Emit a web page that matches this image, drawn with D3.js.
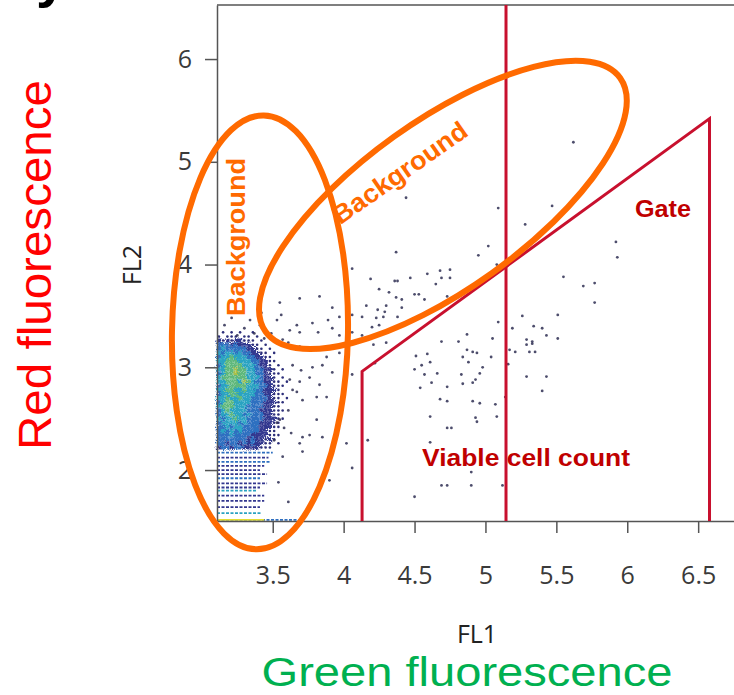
<!DOCTYPE html>
<html lang="en">
<head>
  <meta charset="UTF-8" />
  <title>Viable cell gate (FL1 vs FL2)</title>
  <script src="https://d3js.org/d3.v7.min.js"></script>
  <style>
    body {
      margin: 0;
      background: #fff;
    }

    svg {
      display: block;
    }

    .axis path,
    .axis line {
      stroke: #555;
      stroke-width: 1.5px;
    }

    .axis text {
      font-family: 'Open Sans', sans-serif;
      font-size: 25px;
      fill: #3a3a3a;
    }

    .axis-title {
      font-family: 'Open Sans', sans-serif;
      font-size: 25px;
      fill: #222;
    }

    .big-title {
      font-family: 'Liberation Sans', Arial, sans-serif;
    }

    .note {
      font-family: 'Liberation Sans', Arial, sans-serif;
      font-weight: bold;
    }
  </style>
</head>
<body>

  <div id="chart"></div>

  <script>
    // axis ticks
    const xTicks = [3.5, 4, 4.5, 5, 5.5, 6, 6.5];
    const yTicks = [2, 3, 4, 5, 6];

    // sparse events, FL1 / FL2 pairs
    const eventX = [
      4.44, 5.09, 5.47, 5.28, 5.92, 5.93, 4.37, 5.02, 4.95, 5.08, 4.06, 4.19, 4.36, 4.38, 4.47,
      4.59, 4.68, 4.75, 4.69, 4.75, 4.65, 5.55, 5.69, 5.77, 5.77, 4.25, 4.32, 4.50, 4.53, 4.73,
      4.57, 4.37, 4.41, 4.16, 4.30, 4.24, 4.29, 4.41, 4.06, 4.13, 4.23, 4.28, 4.38, 4.20, 4.25,
      4.13, 4.06, 3.97, 4.02, 4.30, 4.21, 5.26, 5.51, 5.09, 5.19, 5.34, 5.40, 5.43, 5.51, 5.29,
      5.33, 5.29, 5.33, 5.31, 5.35, 5.17, 5.21, 5.05, 4.87, 4.81, 4.69, 4.87, 4.91, 4.94, 4.84,
      4.88, 5.04, 4.51, 4.59, 4.61, 4.55, 4.66, 4.57, 4.50, 4.98, 4.96, 5.16, 5.29, 5.43, 5.40,
      4.83, 4.93, 4.91, 4.84, 4.73, 4.54, 4.62, 4.68, 4.73, 4.91, 4.96, 5.07, 5.14, 4.61, 4.93,
      5.08, 4.06, 4.22, 4.73, 4.76, 4.61, 4.90, 4.69, 4.73, 4.90, 5.12, 4.50, 4.94, 5.62, 4.17,
      3.53, 3.67, 3.69, 3.78, 3.82, 3.89, 3.92, 3.97, 4.02, 3.57, 3.61, 3.69, 3.81, 3.88, 3.97,
      3.64, 3.70, 3.78, 3.85, 3.92, 3.62, 3.69, 3.76, 3.64, 3.67, 3.83, 3.71, 3.81, 3.88, 3.61,
      3.81, 3.63, 3.71, 3.76, 3.85, 3.69, 4.02, 3.71, 4.06, 3.90, 3.61, 3.57, 3.54, 3.62, 3.49,
      3.56, 3.53, 3.55, 3.69, 3.42, 3.83, 3.92, 3.41, 3.34, 3.16, 3.21, 3.30, 3.37, 3.44, 3.25,
      3.55, 3.58, 3.51
    ];
    const eventY = [
      4.65, 4.55, 4.57, 4.39, 4.22, 4.07, 4.12, 4.18, 4.09, 4.00, 3.96, 3.86, 3.84, 3.84, 3.87,
      3.91, 3.94, 3.95, 3.87, 3.87, 3.81, 3.88, 3.79, 3.82, 3.63, 3.76, 3.73, 3.71, 3.71, 3.69,
      3.66, 3.68, 3.66, 3.60, 3.60, 3.56, 3.54, 3.58, 3.51, 3.49, 3.48, 3.49, 3.49, 3.39, 3.41,
      3.31, 3.34, 3.31, 3.29, 3.24, 3.22, 3.50, 3.51, 3.44, 3.38, 3.40, 3.38, 3.31, 3.28, 3.27,
      3.25, 3.22, 3.23, 3.15, 3.15, 3.17, 3.15, 3.28, 3.32, 3.25, 3.25, 3.17, 3.15, 3.14, 3.10,
      3.05, 3.10, 3.11, 3.13, 3.05, 3.02, 2.94, 2.93, 2.98, 3.00, 2.94, 3.03, 2.91, 2.91, 2.77,
      2.93, 2.88, 2.85, 2.84, 2.81, 2.80, 2.85, 2.69, 2.67, 2.67, 2.65, 2.64, 2.71, 2.52, 2.51,
      2.52, 2.93, 3.04, 2.41, 2.41, 2.27, 1.98, 1.85, 1.85, 1.85, 1.85, 1.74, 2.47, 5.19, 2.29,
      3.46, 3.41, 3.34, 3.43, 3.34, 3.46, 3.38, 3.49, 3.46, 3.27, 3.24, 3.20, 3.17, 3.10, 3.14,
      3.02, 2.97, 3.00, 3.02, 2.95, 2.88, 2.86, 2.90, 2.78, 2.76, 2.83, 2.68, 2.71, 2.71, 2.58,
      2.49, 2.36, 2.32, 2.34, 2.32, 2.26, 2.26, 2.18, 2.02, 1.90, 1.69, 2.13, 1.88, 3.36, 3.33,
      3.51, 2.46, 3.63, 3.67, 3.53, 3.69, 3.58, 3.41, 3.46, 3.41, 3.48, 3.38, 3.33, 3.28, 3.31,
      2.49, 2.41, 2.29
    ];

    // dense background cloud, density level per cell (0 empty, 1 sparse .. 6 highest)
    const cloudCols = [3.12, 3.15, 3.18, 3.21, 3.24, 3.27, 3.30, 3.33, 3.36, 3.39, 3.42, 3.45, 3.48, 3.51, 3.54, 3.57, 3.60];
    const cloudRows = [3.34, 3.30, 3.26, 3.22, 3.18, 3.14, 3.10, 3.06, 3.02, 2.98, 2.94, 2.90, 2.86, 2.82, 2.78,
                       2.74, 2.70, 2.66, 2.62, 2.58, 2.54, 2.50, 2.46, 2.42, 2.38, 2.34, 2.30, 2.26, 2.22];
    const cloudLevels = [
      [0, 1, 0, 1, 0, 1, 0, 0, 1, 0, 0, 0, 0, 0, 0, 0, 0],
      [1, 0, 1, 1, 1, 0, 1, 1, 0, 1, 0, 0, 0, 0, 0, 0, 0],
      [2, 1, 2, 1, 2, 2, 1, 1, 1, 0, 1, 0, 0, 0, 0, 0, 0],
      [3, 3, 3, 2, 3, 2, 2, 2, 1, 1, 0, 1, 0, 0, 0, 0, 0],
      [3, 4, 3, 3, 3, 3, 3, 2, 2, 1, 1, 0, 1, 0, 0, 0, 0],
      [4, 3, 4, 4, 3, 4, 3, 3, 2, 2, 1, 1, 0, 1, 0, 0, 0],
      [3, 4, 4, 5, 4, 4, 4, 3, 3, 2, 2, 1, 1, 0, 0, 0, 0],
      [4, 4, 5, 5, 5, 4, 4, 4, 3, 3, 2, 2, 1, 1, 0, 0, 0],
      [3, 4, 5, 5, 5, 5, 4, 4, 4, 3, 2, 2, 1, 0, 1, 0, 0],
      [4, 4, 5, 5, 6, 5, 5, 4, 4, 3, 3, 2, 2, 1, 0, 1, 0],
      [3, 4, 5, 5, 6, 5, 5, 4, 4, 3, 3, 2, 1, 1, 1, 0, 0],
      [4, 5, 5, 5, 5, 5, 5, 4, 4, 4, 3, 2, 2, 1, 0, 1, 0],
      [4, 4, 5, 5, 5, 4, 6, 5, 4, 3, 3, 2, 2, 1, 1, 0, 1],
      [3, 4, 4, 5, 5, 5, 5, 4, 4, 4, 3, 3, 2, 1, 1, 1, 0],
      [4, 4, 5, 5, 4, 4, 5, 4, 4, 3, 3, 2, 2, 2, 1, 0, 0],
      [3, 4, 4, 5, 5, 4, 4, 4, 4, 3, 3, 2, 2, 1, 1, 1, 0],
      [4, 4, 5, 4, 4, 5, 4, 4, 3, 3, 3, 3, 2, 1, 1, 0, 1],
      [3, 4, 5, 5, 4, 4, 4, 4, 3, 3, 3, 2, 2, 2, 1, 1, 0],
      [4, 5, 5, 5, 4, 4, 4, 3, 3, 3, 3, 2, 2, 1, 1, 0, 0],
      [3, 4, 5, 4, 4, 4, 4, 3, 3, 3, 2, 2, 2, 1, 1, 1, 0],
      [3, 4, 4, 5, 4, 4, 3, 4, 3, 3, 3, 2, 2, 1, 1, 0, 0],
      [4, 3, 4, 4, 5, 4, 4, 3, 3, 3, 3, 2, 2, 2, 1, 1, 0],
      [3, 4, 4, 4, 4, 3, 4, 3, 3, 3, 2, 2, 2, 1, 1, 0, 0],
      [3, 3, 4, 3, 4, 4, 3, 3, 3, 3, 2, 2, 2, 1, 1, 0, 0],
      [3, 4, 3, 4, 3, 4, 3, 3, 3, 3, 2, 2, 1, 1, 0, 0, 0],
      [3, 3, 3, 4, 3, 3, 3, 3, 2, 2, 2, 2, 1, 1, 1, 0, 0],
      [3, 3, 3, 3, 3, 3, 3, 2, 3, 2, 2, 1, 2, 1, 0, 0, 0],
      [3, 3, 2, 3, 3, 2, 3, 2, 3, 2, 2, 1, 1, 0, 1, 0, 0],
      [2, 3, 3, 2, 3, 3, 2, 2, 2, 2, 1, 1, 1, 0, 0, 0, 0]
    ];

    // quantised rows at low FL2
    const bandY = [2.17, 2.12, 2.08, 2.04, 2.00, 1.96, 1.92, 1.87, 1.83, 1.80, 1.75, 1.70, 1.64, 1.58, 1.514, 1.514];
    const bandEnd = [3.50, 3.47, 3.48, 3.44, 3.41, 3.46, 3.41, 3.46, 3.41, 3.39, 3.44, 3.44, 3.41, 3.42, 3.69, 3.44];
    const bandLevel = [3, 2, 3, 2, 2, 2, 3, 2, 2, 4, 2, 2, 2, 4, 3, 7];

    // gate polygon and count divider
    const gateX = [4.13, 4.13, 6.58, 6.58];
    const gateY = [1.504, 2.96, 5.42, 1.504];
    const splitX = 5.145;

    const width = 734;
    const height = 695;

    const x = d3.scaleLinear().domain([3.107, 6.795]).range([217, 740]);
    const y = d3.scaleLinear().domain([1.504, 6.526]).range([521, 5]);

    const levelColor = [null, "#2d2f7a", "#33378f", "#2f6fc0", "#2ba3c2", "#5fb87c", "#a9bf48", "#e2dc34"];

    const svg = d3.select("#chart").append("svg")
      .attr("width", width)
      .attr("height", height);

    // speckle the density cloud so it reads as single events, not blocks
    const defs = svg.append("defs");
    const speckle = defs.append("filter")
      .attr("id", "speckle")
      .attr("x", "-10%").attr("y", "-10%")
      .attr("width", "120%").attr("height", "120%");
    speckle.append("feTurbulence")
      .attr("type", "fractalNoise")
      .attr("baseFrequency", 0.9)
      .attr("numOctaves", 2)
      .attr("seed", 7)
      .attr("result", "noise");
    speckle.append("feDisplacementMap")
      .attr("in", "SourceGraphic")
      .attr("in2", "noise")
      .attr("scale", 7)
      .attr("xChannelSelector", "R")
      .attr("yChannelSelector", "G");

    // cut-off title letter at the very top
    svg.append("text")
      .attr("class", "note")
      .attr("x", 36)
      .attr("y", -4)
      .attr("font-size", 56)
      .attr("fill", "#000")
      .text("y");

    const cloud = svg.append("g").attr("filter", "url(#speckle)");

    const cells = [];
    cloudRows.forEach((r, i) => {
      cloudCols.forEach((c, j) => {
        const lv = cloudLevels[i][j];
        if (lv > 0) cells.push({ c, r, lv });
      });
    });

    cloud.selectAll("rect.cell")
      .data(cells.filter(d => d.lv > 1))
      .enter().append("rect")
      .attr("class", "cell")
      .attr("x", d => x(d.c - 0.015))
      .attr("y", d => y(d.r + 0.02))
      .attr("width", d => x(d.c + 0.015) - x(d.c - 0.015))
      .attr("height", d => y(d.r - 0.02) - y(d.r + 0.02))
      .attr("fill", d => levelColor[d.lv]);

    // sparse cells become a single event
    svg.selectAll("circle.sparse")
      .data(cells.filter(d => d.lv === 1))
      .enter().append("circle")
      .attr("class", "sparse")
      .attr("cx", d => x(d.c))
      .attr("cy", d => y(d.r))
      .attr("r", 1.3)
      .attr("fill", levelColor[1]);

    svg.selectAll("line.band")
      .data(bandY.map((v, i) => ({ v, end: bandEnd[i], lv: bandLevel[i] })))
      .enter().append("line")
      .attr("class", "band")
      .attr("x1", x(3.107))
      .attr("x2", d => x(d.end))
      .attr("y1", d => y(d.v))
      .attr("y2", d => y(d.v))
      .attr("stroke", d => levelColor[d.lv])
      .attr("stroke-width", 1.8)
      .attr("stroke-dasharray", d => d.lv === 7 ? null : "3,1.5");

    // sparse events
    svg.selectAll("circle.ev")
      .data(eventX.map((v, i) => [v, eventY[i]]))
      .enter().append("circle")
      .attr("class", "ev")
      .attr("cx", d => x(d[0]))
      .attr("cy", d => y(d[1]))
      .attr("r", 1.4)
      .attr("fill", "#2e2e52")
      .attr("opacity", 0.85);

    // axes
    svg.append("g")
      .attr("class", "axis")
      .attr("transform", "translate(0,521)")
      .call(d3.axisBottom(x).tickValues(xTicks).tickSize(12).tickSizeOuter(0).tickPadding(33).tickFormat(d3.format("~g")));

    svg.append("g")
      .attr("class", "axis")
      .attr("transform", "translate(217,0)")
      .call(d3.axisLeft(y).tickValues(yTicks).tickSize(12).tickSizeOuter(0).tickPadding(13).tickFormat(d3.format("~g")));

    svg.append("line")
      .attr("x1", 217).attr("x2", 740)
      .attr("y1", 5).attr("y2", 5)
      .attr("stroke", "#555")
      .attr("stroke-width", 1.5);

    // gate
    const red = "#c8102e";
    svg.append("path")
      .attr("d", d3.line().x(d => x(d[0])).y(d => y(d[1]))(gateX.map((v, i) => [v, gateY[i]])))
      .attr("fill", "none")
      .attr("stroke", red)
      .attr("stroke-width", 3);

    svg.append("line")
      .attr("x1", x(splitX)).attr("x2", x(splitX))
      .attr("y1", y(1.504)).attr("y2", y(6.526))
      .attr("stroke", red)
      .attr("stroke-width", 3);

    // background ellipses
    const orange = "#ff6a00";
    svg.append("ellipse")
      .attr("transform", `translate(${x(3.41)},${y(3.34)}) rotate(1)`)
      .attr("rx", 88)
      .attr("ry", 217)
      .attr("fill", "none")
      .attr("stroke", orange)
      .attr("stroke-width", 6);

    svg.append("ellipse")
      .attr("transform", `translate(${x(4.70)},${y(4.58)}) rotate(-35.6)`)
      .attr("rx", 218)
      .attr("ry", 84)
      .attr("fill", "none")
      .attr("stroke", orange)
      .attr("stroke-width", 6);

    // annotations
    svg.append("text")
      .attr("class", "note")
      .attr("transform", "translate(245,237) rotate(-90)")
      .attr("text-anchor", "middle")
      .attr("font-size", 26)
      .attr("fill", orange)
      .attr("textLength", 158)
      .attr("lengthAdjust", "spacingAndGlyphs")
      .text("Background");

    svg.append("text")
      .attr("class", "note")
      .attr("transform", "translate(405,180) rotate(-35)")
      .attr("text-anchor", "middle")
      .attr("font-size", 26)
      .attr("fill", orange)
      .attr("textLength", 158)
      .attr("lengthAdjust", "spacingAndGlyphs")
      .text("Background");

    svg.append("text")
      .attr("class", "note")
      .attr("x", 663).attr("y", 217)
      .attr("text-anchor", "middle")
      .attr("font-size", 24)
      .attr("fill", "#c00000")
      .attr("textLength", 56)
      .attr("lengthAdjust", "spacingAndGlyphs")
      .text("Gate");

    svg.append("text")
      .attr("class", "note")
      .attr("x", 526).attr("y", 466)
      .attr("text-anchor", "middle")
      .attr("font-size", 24)
      .attr("fill", "#c00000")
      .attr("textLength", 208)
      .attr("lengthAdjust", "spacingAndGlyphs")
      .text("Viable cell count");

    // axis titles
    svg.append("text")
      .attr("class", "axis-title")
      .attr("x", 477).attr("y", 643)
      .attr("text-anchor", "middle")
      .text("FL1");

    svg.append("text")
      .attr("class", "axis-title")
      .attr("transform", "translate(141,265) rotate(-90)")
      .attr("text-anchor", "middle")
      .text("FL2");

    svg.append("text")
      .attr("class", "big-title")
      .attr("x", 467).attr("y", 686)
      .attr("text-anchor", "middle")
      .attr("font-size", 40)
      .attr("fill", "#00b050")
      .attr("textLength", 411)
      .attr("lengthAdjust", "spacingAndGlyphs")
      .text("Green fluorescence");

    svg.append("text")
      .attr("class", "big-title")
      .attr("transform", "translate(51,265) rotate(-90)")
      .attr("text-anchor", "middle")
      .attr("font-size", 47)
      .attr("fill", "#ff0000")
      .attr("textLength", 370)
      .attr("lengthAdjust", "spacingAndGlyphs")
      .text("Red fluorescence");
  </script>
</body>
</html>
